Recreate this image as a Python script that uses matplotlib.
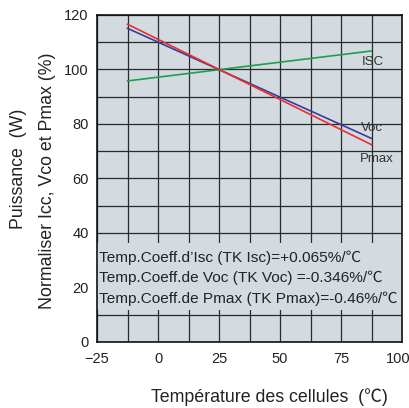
# Temperature coefficients of a PV module: normalised Isc, Voc and Pmax vs cell temperature

import matplotlib.pyplot as plt
import matplotlib.transforms as mtransforms

plt.rcParams['font.family'] = ['Liberation Sans', 'Noto Sans CJK JP', 'DejaVu Sans']

temps = [-12.5, 87.5]
isc = [95.8, 106.8]
voc = [115.1, 74.7]
pmax = [116.6, 72.4]

series_labels = ['ISC', 'Voc', 'Pmax']
label_pos = [(88.0, 102.9), (87.5, 78.5), (89.5, 67.0)]

coeff_texts = ["Temp.Coeff.d\u2019Isc (TK Isc)=+0.065%/\u2103",
               "Temp.Coeff.de Voc (TK Voc) =-0.346%/\u2103",
               "Temp.Coeff.de Pmax (TK Pmax)=-0.46%/\u2103"]
coeff_y = [30.8, 23.5, 15.8]

xticks = [-25, 0, 25, 50, 75, 100]
yticks = [0, 20, 40, 60, 80, 100, 120]

bg = '#d3dbe0'

fig = plt.figure(figsize=(4.1, 4.08), dpi=100)
ax = fig.add_axes([0.2366, 0.1618, 0.7439, 0.8015])
ax.set_facecolor(bg)

ax.plot(temps, isc, color='#1aa050', linewidth=1.2, zorder=3)
ax.plot(temps, voc, color='#3a3a9a', linewidth=1.2, zorder=3)
ax.plot(temps, pmax, color='#e83030', linewidth=1.2, zorder=3)

for lab, (lx, ly) in zip(series_labels, label_pos):
    ax.text(lx, ly, lab, fontsize=9.5, color='#333333', ha='center', va='center', zorder=4)

ax.set_xlim(-25, 100)
ax.set_ylim(0, 120)
ax.set_xticks(xticks)
ax.set_xticks([-12.5, 12.5, 37.5, 62.5, 87.5], minor=True)
ax.set_yticks(yticks)
ax.set_yticks([10, 30, 50, 70, 90, 110], minor=True)
ax.grid(True, which='both', color='#2a2a2a', linewidth=0.9)
ax.tick_params(which='both', length=0, labelsize=10.5, colors='#222222')
ax.tick_params(axis='x', pad=7)
ax.tick_params(axis='y', pad=6)

# pull the "100" label a little inward so it stays on the canvas
lbl = ax.get_xticklabels()[-1]
lbl.set_transform(lbl.get_transform() + mtransforms.ScaledTranslation(-3 / 72, 0, fig.dpi_scale_trans))

# box behind the coefficient text hides the grid
ax.axhspan(11.7, 36.3, facecolor=bg, edgecolor='none', zorder=2)
for t, y in zip(coeff_texts, coeff_y):
    ax.text(-24.3, y, t, fontsize=11.1, color='#222222', ha='left', va='center', zorder=4)

for s in ax.spines.values():
    s.set_color('#111111')
    s.set_linewidth(1.2)

fig.text(0.044, 0.586, 'Puissance  (W)', rotation=90, ha='center', va='center', fontsize=12.8, color='#222222')
fig.text(0.117, 0.557, 'Normaliser Icc, Vco et Pmax (%)', rotation=90, ha='center', va='center', fontsize=12.8, color='#222222')
fig.text(0.656, 0.027, 'Température des cellules  (\u2103)', ha='center', va='center', fontsize=12.8, color='#222222')

fig.savefig('out.png', dpi=100)
